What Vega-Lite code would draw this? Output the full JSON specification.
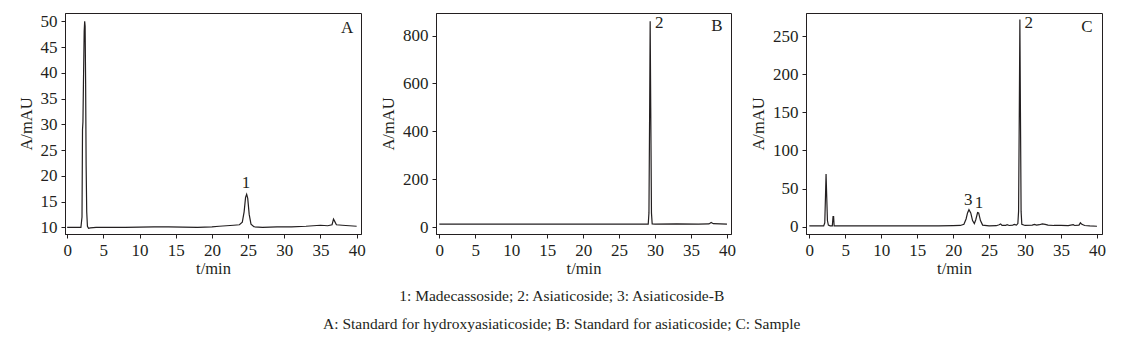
{
  "$schema": "https://vega.github.io/schema/vega-lite/v6.json",
  "background": "white",
  "padding": {"left": 17, "top": 11, "right": 5, "bottom": 5},
  "config": {
    "font": "Liberation Serif",
    "view": {"stroke": "#231f20", "strokeWidth": 1},
    "axis": {
      "grid": false,
      "domainColor": "#231f20",
      "tickColor": "#231f20",
      "tickSize": 4,
      "tickCount": 20,
      "labelFont": "Liberation Serif",
      "labelFontSize": 17,
      "labelColor": "#231f20",
      "labelOverlap": false,
      "labelFlush": false,
      "titleFont": "Liberation Serif",
      "titleFontSize": 16.5,
      "titleFontWeight": "normal",
      "titleColor": "#231f20",
      "labelPadding": 4
    },
    "text": {"font": "Liberation Serif", "fontSize": 17, "color": "#231f20"}
  },
  "title": {
    "text": ["1: Madecassoside; 2: Asiaticoside; 3: Asiaticoside-B", "A: Standard for hydroxyasiaticoside; B: Standard for asiaticoside; C: Sample"],
    "orient": "bottom",
    "anchor": "middle",
    "font": "Liberation Serif",
    "fontSize": 15.5,
    "fontWeight": "normal",
    "color": "#231f20",
    "lineHeight": 28,
    "offset": 12
  },
  "spacing": 14,
  "hconcat": [
    {
      "width": 296,
      "height": 221,
      "layer": [
        {
          "data": {"values": [
            {"t":0,"v":10.0},{"t":0.5,"v":10.0},{"t":1.0,"v":10.0},{"t":1.5,"v":10.0},{"t":1.9,"v":10.0},{"t":2.05,"v":12},{"t":2.12,"v":29},{"t":2.18,"v":30.5},{"t":2.25,"v":38},{"t":2.35,"v":48},{"t":2.42,"v":50},{"t":2.48,"v":49},{"t":2.55,"v":38},{"t":2.62,"v":22},{"t":2.7,"v":13},{"t":2.8,"v":10.2},{"t":2.95,"v":9.8},{"t":3.2,"v":9.9},{"t":4,"v":10.0},{"t":6,"v":10.0},{"t":8,"v":10.0},{"t":10,"v":10.05},{"t":12,"v":10.1},{"t":14,"v":10.1},{"t":16,"v":10.05},{"t":18,"v":10.0},{"t":20,"v":10.1},{"t":21,"v":10.2},{"t":22,"v":10.3},{"t":23,"v":10.4},{"t":23.8,"v":10.5},{"t":24.2,"v":11},{"t":24.45,"v":13},{"t":24.65,"v":15.8},{"t":24.8,"v":16.4},{"t":24.95,"v":15.6},{"t":25.15,"v":12.5},{"t":25.4,"v":10.6},{"t":25.8,"v":10.1},{"t":27,"v":10.0},{"t":29,"v":10.1},{"t":31,"v":10.1},{"t":33,"v":10.2},{"t":35,"v":10.4},{"t":36,"v":10.3},{"t":36.6,"v":10.5},{"t":36.8,"v":11.6},{"t":36.95,"v":11.2},{"t":37.2,"v":10.5},{"t":38,"v":10.4},{"t":39,"v":10.3},{"t":40,"v":10.2}
          ]},
          "mark": {"type": "line", "color": "#231f20", "strokeWidth": 1.2, "clip": true},
          "encoding": {
            "x": {"field": "t", "type": "quantitative", "scale": {"domain": [-0.3, 40.6], "nice": false, "zero": false}, "axis": {"values": [0,5,10,15,20,25,30,35,40], "tickCount": 20, "labelOverlap": false, "title": "t/min", "titlePadding": 2}},
            "y": {"field": "v", "type": "quantitative", "scale": {"domain": [8.7, 51.6], "nice": false, "zero": false}, "axis": {"values": [10,15,20,25,30,35,40,45,50], "tickCount": 20, "labelOverlap": false, "title": "A/mAU", "titlePadding": 6}}
          }
        },
        {
          "data": {"values": [{"t": 24.7, "v": 18.6, "label": "1"}, {"t": 38.7, "v": 48.7, "label": "A"}]},
          "mark": {"type": "text", "baseline": "middle", "align": "center"},
          "encoding": {
            "x": {"field": "t", "type": "quantitative"},
            "y": {"field": "v", "type": "quantitative"},
            "text": {"field": "label"}
          }
        }
      ]
    },
    {
      "width": 295,
      "height": 221,
      "layer": [
        {
          "data": {"values": [
            {"t":0,"v":13},{"t":5,"v":13},{"t":10,"v":13},{"t":15,"v":13},{"t":20,"v":13},{"t":25,"v":13},{"t":28,"v":13},{"t":29.05,"v":13},{"t":29.15,"v":60},{"t":29.25,"v":500},{"t":29.32,"v":860},{"t":29.4,"v":500},{"t":29.5,"v":60},{"t":29.6,"v":14},{"t":30,"v":13},{"t":33,"v":14},{"t":36,"v":13},{"t":37.5,"v":14},{"t":37.8,"v":20},{"t":38.1,"v":15},{"t":40,"v":13}
          ]},
          "mark": {"type": "line", "color": "#231f20", "strokeWidth": 1.2, "clip": true},
          "encoding": {
            "x": {"field": "t", "type": "quantitative", "scale": {"domain": [-0.46, 40.56], "nice": false, "zero": false}, "axis": {"values": [0,5,10,15,20,25,30,35,40], "tickCount": 20, "labelOverlap": false, "title": "t/min", "titlePadding": 2}},
            "y": {"field": "v", "type": "quantitative", "scale": {"domain": [-28, 894], "nice": false, "zero": false}, "axis": {"values": [0,200,400,600,800], "tickCount": 20, "labelOverlap": false, "title": "A/mAU", "titlePadding": 6}}
          }
        },
        {
          "data": {"values": [{"t": 30.6, "v": 852, "label": "2"}, {"t": 38.6, "v": 840, "label": "B"}]},
          "mark": {"type": "text", "baseline": "middle", "align": "center"},
          "encoding": {
            "x": {"field": "t", "type": "quantitative"},
            "y": {"field": "v", "type": "quantitative"},
            "text": {"field": "label"}
          }
        }
      ]
    },
    {
      "width": 296,
      "height": 221,
      "layer": [
        {
          "data": {"values": [
            {"t":0,"v":1},{"t":1,"v":1},{"t":2,"v":1},{"t":2.15,"v":5},{"t":2.25,"v":40},{"t":2.33,"v":69},{"t":2.42,"v":40},{"t":2.52,"v":8},{"t":2.65,"v":2},{"t":2.9,"v":1},{"t":3.2,"v":1},{"t":3.3,"v":13},{"t":3.38,"v":13},{"t":3.45,"v":1},{"t":4,"v":1},{"t":6,"v":1},{"t":8,"v":1},{"t":10,"v":1},{"t":12,"v":1},{"t":14,"v":1},{"t":16,"v":1},{"t":18,"v":1},{"t":20,"v":1.2},{"t":21,"v":1.5},{"t":21.5,"v":3},{"t":21.8,"v":10},{"t":22.0,"v":18},{"t":22.2,"v":22.3},{"t":22.45,"v":18},{"t":22.7,"v":8},{"t":22.95,"v":4},{"t":23.15,"v":9},{"t":23.4,"v":18.5},{"t":23.55,"v":18},{"t":23.8,"v":8},{"t":24.1,"v":2},{"t":25,"v":1},{"t":26,"v":1.2},{"t":26.4,"v":2.5},{"t":26.6,"v":3.5},{"t":26.8,"v":1.5},{"t":27.3,"v":1.5},{"t":27.5,"v":2.5},{"t":27.8,"v":1.5},{"t":28.3,"v":2},{"t":28.5,"v":3},{"t":28.8,"v":2},{"t":29.0,"v":4},{"t":29.1,"v":20},{"t":29.2,"v":150},{"t":29.28,"v":272},{"t":29.36,"v":150},{"t":29.45,"v":20},{"t":29.55,"v":3},{"t":30,"v":1.5},{"t":31,"v":2},{"t":31.3,"v":3},{"t":31.6,"v":2},{"t":32,"v":2.5},{"t":32.4,"v":3.5},{"t":32.8,"v":3},{"t":33.2,"v":2},{"t":34,"v":1.5},{"t":35,"v":1.5},{"t":36,"v":1.2},{"t":36.7,"v":2.5},{"t":36.9,"v":1.5},{"t":37.5,"v":2},{"t":37.7,"v":5},{"t":37.9,"v":3},{"t":38.3,"v":1.5},{"t":39,"v":1},{"t":40,"v":0.5}
          ]},
          "mark": {"type": "line", "color": "#231f20", "strokeWidth": 1.2, "clip": true},
          "encoding": {
            "x": {"field": "t", "type": "quantitative", "scale": {"domain": [-0.46, 40.7], "nice": false, "zero": false}, "axis": {"values": [0,5,10,15,20,25,30,35,40], "tickCount": 20, "labelOverlap": false, "title": "t/min", "titlePadding": 2}},
            "y": {"field": "v", "type": "quantitative", "scale": {"domain": [-9.7, 280.6], "nice": false, "zero": false}, "axis": {"values": [0,50,100,150,200,250], "tickCount": 20, "labelOverlap": false, "title": "A/mAU", "titlePadding": 6}}
          }
        },
        {
          "data": {"values": [{"t": 30.5, "v": 267.5, "label": "2"}, {"t": 22.1, "v": 35.5, "label": "3"}, {"t": 23.6, "v": 31, "label": "1"}, {"t": 38.6, "v": 262, "label": "C"}]},
          "mark": {"type": "text", "baseline": "middle", "align": "center"},
          "encoding": {
            "x": {"field": "t", "type": "quantitative"},
            "y": {"field": "v", "type": "quantitative"},
            "text": {"field": "label"}
          }
        }
      ]
    }
  ]
}
